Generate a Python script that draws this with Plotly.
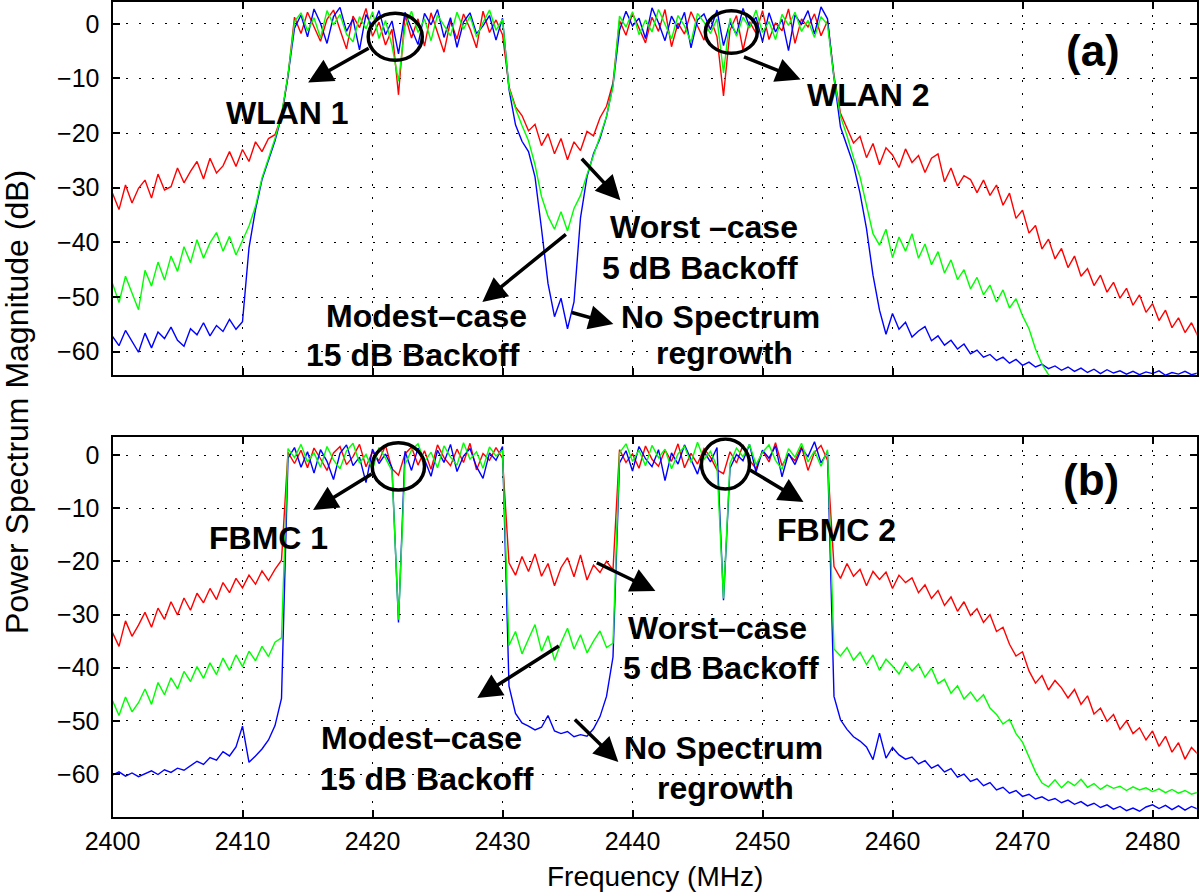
import plotly.graph_objects as go

# spectra sampled every 0.5 MHz starting at 2400 MHz (168 samples)
f_start = 2400.0
f_step = 0.5

# (a) WLAN, dB
red_a = [-31.0, -34.0, -29.5, -32.8, -30.1, -28.6, -31.9, -27.5, -30.4, -29.8, -26.4, -29.1, -27.0, -25.2,
         -28.4, -24.6, -27.3, -26.0, -23.4, -26.1, -23.0, -25.2, -21.6, -23.4, -21.0, -20.3, -17.0, -9.6,
         1.2, -1.8, 2.1, -0.4, -3.2, 0.8, 2.5, -1.1, -4.6, 1.4, -0.7, 2.8, -2.3, 0.3, -3.9, -1.0, -13.0,
         1.6, -2.6, 0.9, -4.1, 2.0, -1.5, -5.2, 0.5, -2.8, 1.8, -0.9, -4.4, 2.3, -1.6, 0.7, -2.0,
         -11.5, -15.2, -16.8, -19.6, -18.4, -22.3, -20.1, -23.8, -21.0, -24.9, -21.6, -23.2, -19.7, -20.5,
         -17.2, -15.1, -10.8,
         0.6, -2.1, 1.9, -0.8, -3.5, 1.2, -1.4, 2.6, -4.2, 0.1, -1.9, 2.2, -0.5, -3.0, 1.0, -2.4, -13.2,
         -1.2, 1.5, -4.8, 0.4, -1.7, 2.4, -2.9, 0.2, -1.3, 2.7, -3.6, 0.9, -0.6, 1.8, -2.2, 0.5,
         -9.5, -16.4, -19.2, -21.8, -20.6, -24.5, -21.9, -25.8, -22.7, -24.0, -26.3, -22.9, -25.4, -24.1,
         -27.2, -24.6, -23.8, -28.9, -26.4, -29.7, -27.8, -28.5, -30.9, -28.6, -31.4, -29.5, -33.2, -31.0,
         -35.6, -34.1, -38.3, -36.9, -41.2, -39.4, -43.0, -41.1, -44.6, -42.5, -46.2, -44.8, -47.9, -46.0,
         -49.1, -47.3, -50.2, -48.4, -51.5, -49.6, -52.8, -51.2, -54.3, -52.4, -55.6, -53.8, -56.5, -54.7,
         -57.2]
green_a = [-47.5, -51.0, -46.2, -49.4, -52.3, -45.1, -48.0, -43.6, -46.9, -42.5, -45.3, -40.8, -43.7, -39.5,
           -42.9, -40.1, -38.2, -41.6, -38.9, -42.3, -39.5, -37.0, -33.4, -28.2, -24.6, -21.0, -16.6, -9.3,
           0.4, 2.0, -1.3, 1.1, -2.6, 2.4, -0.2, 1.7, -1.9, -3.3, 1.3, -0.9, 2.2, -2.7, 0.6, -4.0, -10.5,
           -0.5, 2.3, -1.6, 0.9, -3.1, 1.6, -0.3, -2.2, 2.1, -1.0, 1.4, -2.4, 0.2, 2.5, -1.2, 0.8,
           -11.8, -15.5, -18.6, -21.4, -25.8, -31.6, -35.2, -37.6, -34.4, -37.9, -33.8, -31.4, -27.6, -24.2,
           -20.6, -16.9, -11.5,
           1.4, -0.6, 2.2, -2.0, 0.7, -1.5, 2.6, -0.1, -2.8, 1.5, -0.4, -3.4, 1.9, 0.3, -1.8, 0.9, -9.0,
           1.0, -2.3, 1.2, -0.8, 2.5, -1.6, 0.4, -2.9, 1.7, -0.3, 2.1, -1.4, 0.6, -2.5, 1.3, -0.2,
           -9.8, -17.0, -20.5, -24.5, -28.0, -33.0, -38.4, -40.5, -37.6, -42.8, -39.0, -41.6, -38.4, -42.9,
           -40.3, -44.1, -41.7, -45.6, -43.2, -46.8, -45.0, -48.5, -46.4, -49.6, -47.8, -50.9, -48.7, -52.0,
           -50.3, -53.4, -55.8, -59.5, -62.3, -64.2, -65.3, -64.6, -66.0, -65.1, -64.4, -65.8, -66.3, -64.7,
           -65.6, -66.2, -64.9, -65.4, -66.1, -64.8, -65.9, -66.4, -65.0, -64.6, -65.7, -66.0, -65.3, -64.9,
           -65.8]
blue_a = [-57.2, -58.9, -56.1, -58.0, -60.1, -56.6, -59.3, -56.4, -57.6, -55.5, -57.9, -59.0, -55.8, -56.9,
          -54.7, -57.1, -55.2, -56.3, -54.1, -55.9, -54.5, -41.0, -34.0, -28.5, -25.0, -21.4, -17.0, -9.5,
          -0.8, 1.6, -2.4, 2.7, 0.1, -3.6, 1.3, 3.0, -1.4, 0.9, -4.8, 1.7, -0.6, 2.4, -2.0, 0.5, -5.5,
          2.1, -0.9, -3.8, 1.9, -0.2, 2.6, -2.5, 1.1, -4.3, 0.3, 2.0, -1.8, -0.4, 1.5, -3.0, 1.0,
          -12.0, -18.5, -21.5, -23.4, -28.0, -37.5, -47.5, -53.6, -50.2, -55.8, -50.9, -35.5, -28.0, -23.8,
          -21.0, -17.0, -11.2,
          -1.2, 2.3, -0.4, 1.0, -2.7, 2.9, 0.2, -3.1, 1.4, -0.9, 2.1, -4.4, 0.7, 1.8, -1.1, 2.5, -4.0,
          0.3, -2.0, 2.8, -0.5, 1.2, -3.3, 2.0, -1.5, 0.8, -4.9, 1.6, -0.1, 2.4, -1.9, 3.1, 0.9,
          -10.0, -18.9, -22.5, -25.8, -31.0, -37.5, -46.0, -52.4, -56.8, -53.0, -55.9, -54.6, -57.3, -56.2,
          -55.4, -58.0, -57.1, -58.8, -57.9, -59.5, -58.6, -60.4, -59.7, -61.0, -60.5, -61.6, -61.0, -62.1,
          -61.4, -62.5, -61.9, -62.8, -62.3, -63.1, -62.6, -63.4, -62.8, -63.6, -63.0, -63.8, -63.2, -64.0,
          -63.3, -63.9, -63.5, -64.1, -63.6, -64.2, -63.7, -64.0, -63.5, -64.3, -63.8, -64.1, -63.6, -64.2,
          -63.9]

# (b) FBMC, dB
red_b = [-33.4, -36.0, -31.2, -34.1, -32.0, -29.6, -32.4, -28.8, -30.9, -27.6, -30.1, -26.9, -29.2, -26.0,
         -27.8, -25.1, -27.2, -24.0, -25.9, -23.2, -25.0, -22.6, -24.3, -21.8, -23.6, -21.5, -19.8,
         0.5, -1.6, 0.9, -2.4, 1.3, -0.7, -2.9, 0.4, 1.6, -1.8, -0.3, 2.0, -2.2, 0.6, -1.1, 1.8, -2.6,
         -3.8, 0.2, 1.5, -1.9, 0.8, -2.7, 1.9, -0.5, -2.0, 1.1, -1.4, 2.2, -2.8, 0.3, -1.0, 1.4, -0.6,
         -20.3, -22.6, -19.1, -21.9, -18.6, -22.8, -20.4, -24.6, -21.2, -19.3, -22.9, -18.8, -23.5, -20.7,
         -22.1, -20.0, -21.6,
         1.0, -1.4, 0.2, -2.5, 1.7, -0.8, -2.1, 0.9, -1.2, 2.1, -2.4, 0.3, -1.7, 1.2, -0.4, -2.8, -3.5,
         0.6, -1.5, 1.9, -0.9, -2.6, 0.8, -1.3, 2.3, -2.0, 0.1, -1.1, 1.6, -2.9, 0.5, 1.8, -1.0,
         -21.0, -23.2, -20.4, -22.8, -21.5, -24.6, -21.9, -23.4, -22.0, -25.1, -22.6, -24.0, -23.1, -25.9,
         -24.4, -27.0, -25.5, -28.3, -26.7, -29.4, -27.6, -30.2, -28.9, -31.5, -30.0, -33.2, -32.4, -35.6,
         -37.8, -37.0, -40.6, -42.9, -41.5, -44.2, -42.4, -43.8, -45.7, -44.1, -46.9, -45.3, -48.7, -47.6,
         -50.1, -48.8, -51.6, -50.0, -52.4, -51.3, -53.6, -51.9, -54.8, -52.9, -55.9, -54.1, -57.2, -55.0,
         -56.3]
green_b = [-46.2, -49.0, -45.5, -48.3, -46.6, -44.0, -46.9, -42.8, -45.1, -41.9, -44.0, -40.7, -42.6, -39.8,
           -42.0, -39.1, -41.3, -38.2, -40.5, -37.6, -39.8, -36.9, -38.7, -36.0, -37.9, -35.2, -34.4,
           1.2, -0.5, 2.0, -1.3, 0.4, -2.3, 1.6, -0.9, -2.6, 0.8, 2.2, -1.5, 0.1, -2.8, 1.4, -0.6, -3.0,
           -31.0, -1.8, 0.9, 2.1, -1.2, 0.5, -2.4, 1.7, -0.4, -1.9, 2.3, -0.8, 0.6, -2.5, 1.5, -0.2, 0.9,
           -35.8, -33.2, -37.4, -34.6, -31.9, -36.9, -34.0, -38.6, -35.3, -32.6, -36.5, -33.8, -37.2, -35.0,
           -33.1, -36.2, -35.4,
           0.4, 2.1, -1.2, 0.9, -2.0, 1.8, -0.5, 1.1, -2.6, 0.2, 1.6, -1.4, 2.4, -0.8, 0.7, -2.2, -27.0,
           -1.6, 1.3, -0.3, 2.0, -1.8, 0.5, 1.9, -1.0, -2.7, 1.2, -0.4, 2.2, -1.3, 0.8, -2.1, 1.0,
           -36.5, -37.8, -36.2, -38.6, -37.1, -39.4, -37.6, -40.5, -38.4, -39.7, -41.2, -39.0, -40.6, -39.3,
           -41.8, -40.1, -43.0, -42.2, -44.8, -43.4, -45.9, -44.6, -46.3, -45.1, -47.6, -48.8, -50.6, -49.7,
           -52.4, -54.0, -56.9, -59.6, -61.7, -62.4, -61.1, -62.6, -61.4, -62.2, -61.0, -62.5, -61.8, -62.9,
           -62.1, -62.7, -62.3, -63.1, -62.4, -63.0, -62.6, -63.3, -62.8, -63.5, -62.9, -63.6, -63.1, -63.8,
           -63.4]
blue_b = [-60.2, -59.6, -60.4, -59.8, -60.5, -60.0, -59.4, -60.1, -59.2, -59.7, -58.9, -59.3, -58.4, -57.6,
          -58.2, -56.9, -57.4, -55.8, -56.6, -54.9, -51.0, -57.8, -56.6, -55.3, -53.6, -50.9, -45.8,
          -0.6, 1.4, -2.3, 0.6, -3.4, 1.0, -1.2, -4.6, 0.3, 1.9, -2.0, -0.4, -5.2, 1.1, -1.6, 0.2, -2.4,
          -31.5, 0.7, -2.9, 1.3, -0.8, -4.0, 0.9, -1.4, 2.0, -3.1, -0.2, 1.2, -2.2, -4.4, 0.4, -1.0, 1.6,
          -43.5, -48.6, -50.4, -51.0, -51.7, -51.2, -49.0, -51.9, -52.4, -52.0, -53.0, -52.6, -52.9, -51.5,
          -49.2, -45.4, -38.0,
          -1.5, 0.8, -3.0, 1.6, -0.7, -2.2, 1.0, -4.8, 0.4, -1.7, 1.9, -0.9, -3.6, 0.6, -1.3, 1.4, -27.3,
          -2.5, 0.1, -1.1, 2.0, -3.2, 0.9, -0.6, 1.7, -4.1, 0.3, -1.8, 1.2, -0.3, 2.5, -1.5, 0.6,
          -45.4, -49.8, -51.6, -53.0, -53.8, -54.9, -57.3, -52.3, -57.0, -55.0, -56.4, -57.2, -56.8, -58.1,
          -57.5, -58.9, -58.3, -59.6, -59.0, -60.6, -60.0, -61.4, -60.9, -62.2, -61.6, -63.0, -62.5, -63.6,
          -63.1, -64.2, -63.8, -64.7, -64.3, -65.0, -64.6, -65.4, -64.9, -65.7, -65.2, -66.0, -65.5, -66.3,
          -65.8, -66.6, -66.1, -66.9, -66.4, -67.0, -66.2, -65.8, -66.5, -65.9, -66.7, -66.0, -66.8, -66.1,
          -66.6]

for s in (red_a, green_a, blue_a, red_b, green_b, blue_b):
    assert len(s) == 168, len(s)

x_ticks = [2400, 2410, 2420, 2430, 2440, 2450, 2460, 2470, 2480]
y_ticks = [-60, -50, -40, -30, -20, -10, 0]

FONT = "Liberation Sans, Arial, sans-serif"

fig = go.Figure()

# MATLAB draws red, then blue, then green on top
for xa, ya_, series in (("x", "y", [(red_a, "#ff0000"), (blue_a, "#0000ff"), (green_a, "#00ff00")]),
                        ("x2", "y2", [(red_b, "#ff0000"), (blue_b, "#0000ff"), (green_b, "#00ff00")])):
    for vals, col in series:
        fig.add_trace(go.Scatter(x0=f_start, dx=f_step, y=vals, mode="lines",
                                 line=dict(color=col, width=1.4),
                                 xaxis=xa, yaxis=ya_, showlegend=False, hoverinfo="skip"))

ax_common = dict(showline=True, linecolor="black", linewidth=2, mirror="ticks",
                 ticks="inside", ticklen=7, tickwidth=1.5, tickcolor="black",
                 showgrid=True, gridcolor="black", gridwidth=1.3, griddash="2px,11px",
                 zeroline=False, automargin=False,
                 tickfont=dict(family=FONT, size=25, color="black"))

fig.update_layout(
    width=1200, height=892, autosize=False,
    margin=dict(l=0, r=0, t=0, b=0, pad=0),
    paper_bgcolor="white", plot_bgcolor="white",
    xaxis=dict(domain=[0.09375, 0.99725], range=[2400, 2483.4], anchor="y",
               tickvals=x_ticks, showticklabels=False, **ax_common),
    yaxis=dict(domain=[1 - 375 / 892, 1 - 1.5 / 892], range=[-64.26, 4.07], anchor="x",
               tickvals=y_ticks, ticklabelstandoff=6, **ax_common),
    xaxis2=dict(domain=[0.09375, 0.99725], range=[2400, 2483.4], anchor="y2",
                tickvals=x_ticks, ticklabelstandoff=1, **ax_common),
    yaxis2=dict(domain=[1 - 816.7 / 892, 1 - 437.3 / 892], range=[-68.03, 3.33], anchor="x2",
                tickvals=y_ticks, ticklabelstandoff=6, **ax_common),
)

# circles around the DC notches
circles = [("x", "y", 2419.67, -6.7, 2423.83, 1.9),
           ("x", "y", 2445.6, -5.4, 2449.6, 2.4),
           ("x2", "y2", 2419.98, -6.6, 2424.0, 2.3),
           ("x2", "y2", 2445.3, -6.4, 2449.0, 3.0)]
for xr, yr, x0, y0, x1, y1 in circles:
    fig.add_shape(type="circle", xref=xr, yref=yr, x0=x0, y0=y0, x1=x1, y1=y1,
                  line=dict(color="black", width=3.5))

# arrows: (xref, yref, tail x, tail y, tip x, tip y)
arrows = [("x", "y", 2419.82, -4.33, 2415.05, -10.73),
          ("x", "y", 2448.46, -5.97, 2452.93, -10.19),
          ("x", "y", 2435.99, -24.43, 2439.07, -32.29),
          ("x", "y", 2434.99, -38.31, 2428.45, -50.92),
          ("x", "y", 2435.22, -52.75, 2438.53, -54.94),
          ("x2", "y2", 2420.05, -3.39, 2415.43, -10.34),
          ("x2", "y2", 2448.92, -2.63, 2453.15, -8.84),
          ("x2", "y2", 2437.14, -20.12, 2441.76, -25.58),
          ("x2", "y2", 2434.45, -35.73, 2428.06, -45.70),
          ("x2", "y2", 2435.45, -49.46, 2438.91, -57.74)]
for xr, yr, tx, ty, hx, hy in arrows:
    fig.add_annotation(xref=xr, yref=yr, axref=xr, ayref=yr, x=hx, y=hy, ax=tx, ay=ty,
                       text="", showarrow=True, arrowhead=2, arrowsize=1.4, arrowwidth=3.5,
                       arrowcolor="black")

labels = [("x", "y", 2413.43, -16.39, "WLAN 1", 32),
          ("x", "y", 2458.16, -13.10, "WLAN 2", 32),
          ("x", "y", 2475.40, -4.88, "(a)", 44),
          ("x", "y", 2445.53, -37.22, "Worst –case", 32),
          ("x", "y", 2445.23, -44.71, "5 dB Backoff", 32),
          ("x", "y", 2424.13, -53.48, "Modest–case", 32),
          ("x", "y", 2423.13, -60.60, "15 dB Backoff", 32),
          ("x", "y", 2446.77, -53.66, "No Spectrum", 32),
          ("x", "y", 2447.07, -60.30, "regrowth", 32),
          ("x2", "y2", 2411.97, -15.61, "FBMC 1", 32),
          ("x2", "y2", 2455.70, -14.11, "FBMC 2", 32),
          ("x2", "y2", 2475.25, -4.70, "(b)", 44),
          ("x2", "y2", 2446.54, -32.54, "Worst–case", 32),
          ("x2", "y2", 2446.77, -40.06, "5 dB Backoff", 32),
          ("x2", "y2", 2423.75, -53.23, "Modest–case", 32),
          ("x2", "y2", 2424.21, -60.94, "15 dB Backoff", 32),
          ("x2", "y2", 2447.00, -55.11, "No Spectrum", 32),
          ("x2", "y2", 2447.15, -62.70, "regrowth", 32)]
for xr, yr, x, y, txt, size in labels:
    fig.add_annotation(xref=xr, yref=yr, x=x, y=y, text="<b>" + txt + "</b>", showarrow=False,
                       font=dict(family=FONT, size=size, color="black"))

fig.add_annotation(xref="paper", yref="paper", x=17 / 1200, y=1 - 402 / 892,
                   xanchor="center", yanchor="middle",
                   text="Power Spectrum Magnitude (dB)", textangle=-90, showarrow=False,
                   font=dict(family=FONT, size=32, color="black"))
fig.add_annotation(xref="paper", yref="paper", x=654.6 / 1200, y=1 - 876 / 892,
                   xanchor="center", yanchor="middle",
                   text="Frequency (MHz)", showarrow=False,
                   font=dict(family=FONT, size=28, color="black"))

# drop the default 8px page margin so the figure sits at the window's corner
fig.write_html("out.html", config={"displayModeBar": False},
               post_script="document.body.style.margin='0px';")
